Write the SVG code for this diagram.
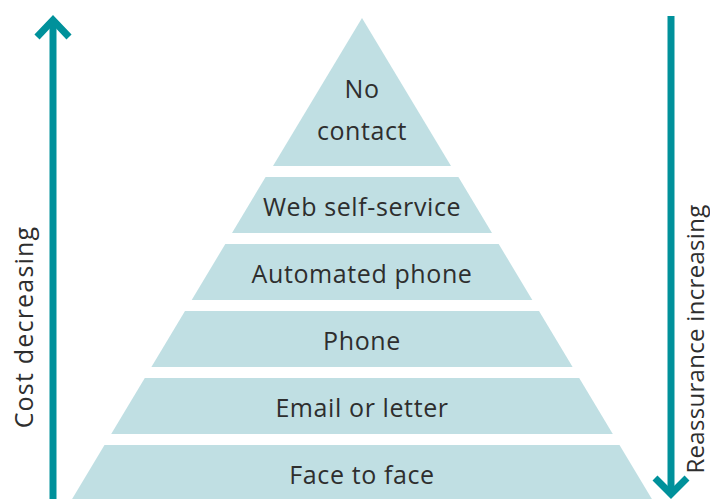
<svg xmlns="http://www.w3.org/2000/svg" width="710" height="499" viewBox="0 0 710 499">
<style>
.band{fill:#c0dfe3}
.lbl{font-family:"Open Sans","Noto Sans",sans-serif;font-size:25px;letter-spacing:0.6px;fill:#2e2e2e;text-anchor:middle}
.side{font-family:"Open Sans","Noto Sans",sans-serif;font-size:25px;fill:#2e2e2e;text-anchor:middle}
.arr{stroke:#00919b;stroke-width:7;fill:none}
</style>
<rect width="710" height="499" fill="#fff"/>
<g id="no-contact"><polygon class="band" points="362,18 451,166 273,166"/><text class="lbl" x="362" y="98">No</text><text class="lbl" x="362" y="140">contact</text></g>
<g id="web-self-service"><polygon class="band" points="265.6,177 458.4,177 492,233 232,233"/><text class="lbl" x="362" y="216">Web self-service</text></g>
<g id="automated-phone"><polygon class="band" points="225.3,244 498.7,244 532.3,300 191.7,300"/><text class="lbl" x="362" y="283">Automated phone</text></g>
<g id="phone"><polygon class="band" points="185,311 539,311 572.6,367 151.4,367"/><text class="lbl" x="362" y="350">Phone</text></g>
<g id="email-or-letter"><polygon class="band" points="144.8,378 579.2,378 612.8,434 111.2,434"/><text class="lbl" x="362" y="417">Email or letter</text></g>
<g id="face-to-face"><polygon class="band" points="104.5,445 619.5,445 653.7,502 70.3,502"/><text class="lbl" x="362" y="484">Face to face</text></g>
<g id="connectors">
<path class="arr" d="M53,499V20"/><path class="arr" d="M37,37L53,20L69,37"/>
<path class="arr" d="M671,16V494"/><path class="arr" d="M655,478L671,494L687,478"/>
</g>
<text class="side" style="letter-spacing:1.2px" transform="translate(33,327) rotate(-90)">Cost decreasing</text>
<text class="side" style="font-size:24px;letter-spacing:0.3px" transform="translate(704,339) rotate(-90)">Reassurance increasing</text>
</svg>
